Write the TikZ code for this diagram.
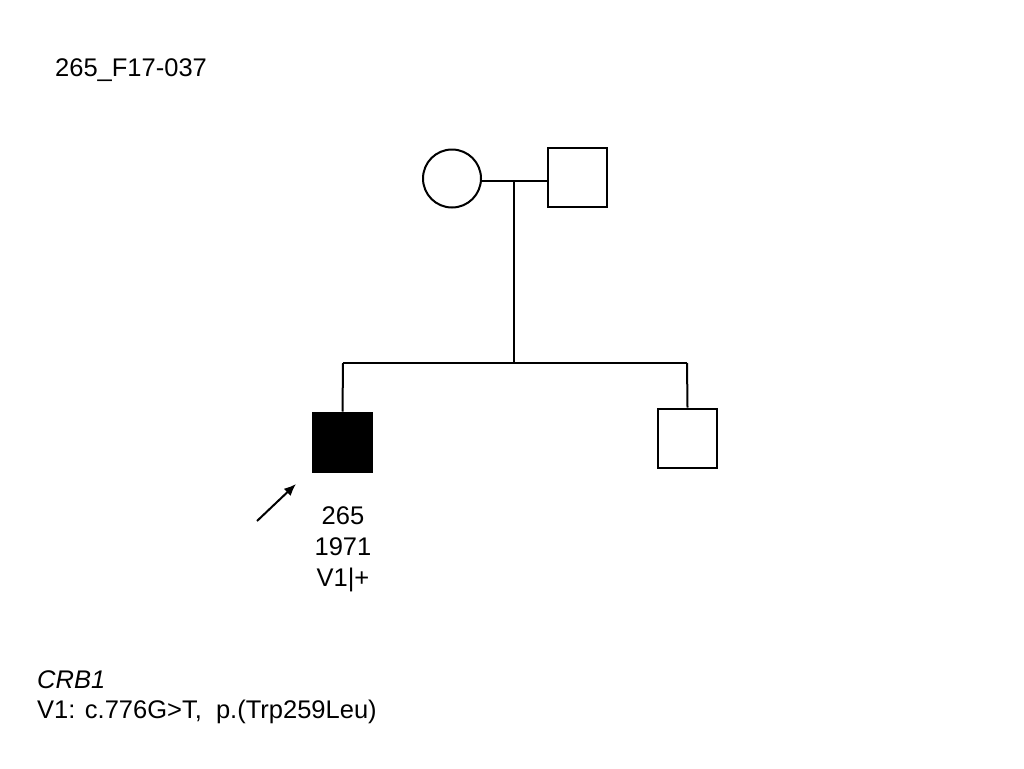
\documentclass[tikz,border=0pt]{standalone}
\usepackage{fontspec}
\setmainfont{Liberation Sans}
\usetikzlibrary{arrows.meta}
\begin{document}
\begin{tikzpicture}[x=1pt,y=-1pt,
  line/.style={line width=2pt},
  ind/.style={draw,line width=2pt,minimum size=59pt,inner sep=0pt},
  lab/.style={font=\fontsize{25.5}{31}\selectfont,inner sep=0pt}]
\useasboundingbox (0,0) rectangle (1024,768);
\fill[white] (0,0) rectangle (1024,768);
\node[lab,anchor=west] (title) at (55,70) {265\_F17-037};
\node[ind,circle,minimum size=58pt] (mother) at (452,178.5) {};
\node[ind,rectangle] (father) at (577.5,177.5) {};
\coordinate (mid) at (514,181);
\coordinate (sib) at (514,363);
\coordinate (sibL) at (343,363);
\coordinate (sibR) at (687,363);
\node[ind,rectangle,fill=black] (c1) at (342.5,442) {};
\node[ind,rectangle] (c2) at (687.5,438) {};
\draw[line] (mid -| mother.east) -- (mid -| father.west);
\draw[line] (mid) -- (sib);
\draw[line] (sibL) -- (sibR);
\draw[line] (sibL) -- (c1.north);
\draw[line] (sibR) -- (c2.north);
\coordinate (atail) at (257,521);
\coordinate (ahead) at (296,484);
\draw[line,-{Latex[length=12pt,width=10pt]}] (atail) -- (ahead);
\node[lab,align=center,anchor=north] (info) at (343,506) {265\\1971\\V1|+};
\node[lab,anchor=west] (gene) at (37,680) {\itshape CRB1};
\node[lab,anchor=west] (var) at (37,712) {V1: c.776G>T,\ \ p.(Trp259Leu)};
\end{tikzpicture}
\end{document}
